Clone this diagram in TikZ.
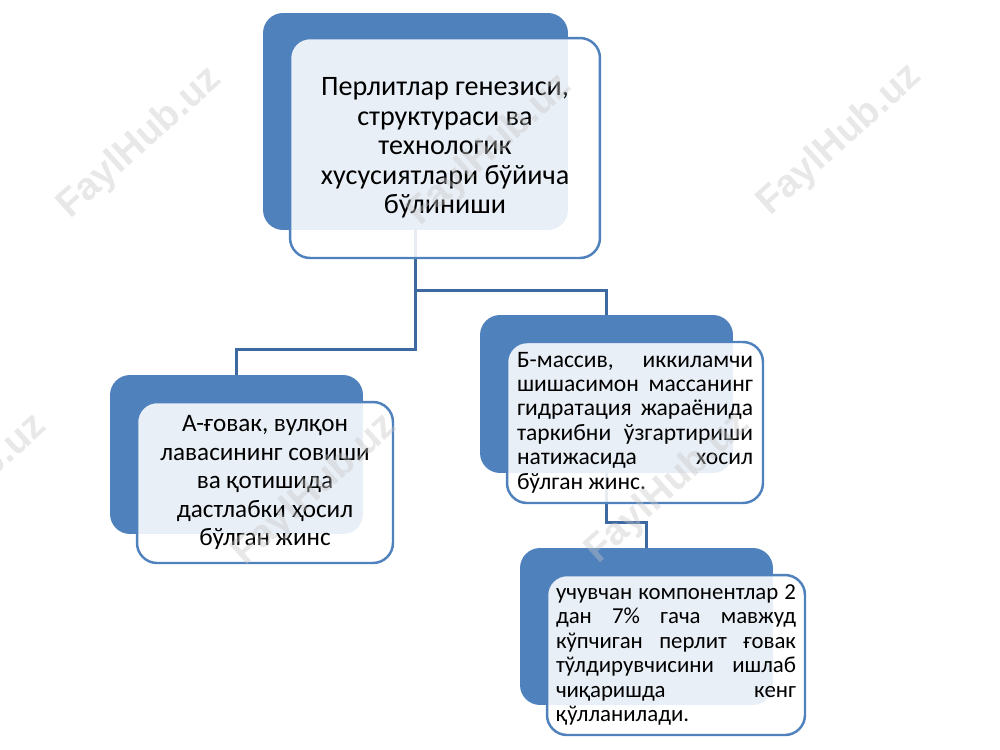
\documentclass[tikz,border=0pt]{standalone}
\usepackage{fontspec}
\setmainfont{Carlito}
\newfontfamily\markfont{Liberation Sans}
\usetikzlibrary{positioning}
\definecolor{boxblue}{HTML}{4F81BD}
\definecolor{linkblue}{HTML}{3E69A0}
\begin{document}
\begin{tikzpicture}[x=0.02cm,y=-0.02cm,
  backbox/.style={rectangle,rounded corners=0.4cm,fill=boxblue,inner sep=0pt},
  frontbox/.style={rectangle,rounded corners=0.4cm,draw=boxblue,line width=1.4pt,
    fill=white,fill opacity=0.88,text opacity=1,inner sep=0pt},
  link/.style={draw=linkblue,line width=1.5pt},
  watermark/.style={rotate=42,text=gray!45,opacity=0.4,
    font=\markfont\bfseries\fontsize{22}{22}\selectfont}]
\useasboundingbox (0,0) rectangle (1000,750);

\node[backbox,minimum width=6.1cm,minimum height=4.34cm] (topback) at (415.5,121.5) {};
\node[backbox,minimum width=5.06cm,minimum height=3.18cm] (aback) at (236.5,454.5) {};
\node[backbox,minimum width=5.06cm,minimum height=3.16cm] (bback) at (606.5,394) {};
\node[backbox,minimum width=5.06cm,minimum height=3.14cm] (cback) at (646.5,626.5) {};

\draw[link] (topback.south) -- ++(0,119) -| (aback.north);
\draw[link] (topback.south) -- ++(0,60) -| (bback.north);
\draw[link] (bback.south) -- ++(0,49) -| (cback.north);

\node[frontbox,minimum width=6.2cm,minimum height=4.4cm,align=center,
  font=\fontsize{16}{16.8}\selectfont] (top) at (445,148)
  {Перлитлар генезиси,\\ структураси ва\\ технологик\\ хусусиятлари бўйича\\ бўлиниши};
\node[frontbox,minimum width=5.12cm,minimum height=3.22cm,align=center,
  font=\fontsize{14.3}{16.2}\selectfont] (a) at (265,482.5)
  {А-ғовак, вулқон\\ лавасининг совиши\\ ва қотишида\\ дастлабки ҳосил\\ бўлган жинс};
\node[frontbox,minimum width=5.12cm,minimum height=3.22cm,text width=4.72cm,align=justify,
  font=\fontsize{13.4}{13.9}\selectfont] (b) at (635,422.5)
  {Б-массив, иккиламчи\linebreak шишасимон массанинг\linebreak гидратация жараёнида\linebreak
   таркибни ўзгартириши\linebreak натижасида хосил\linebreak бўлган жинс.};
\node[frontbox,minimum width=5.16cm,minimum height=3.2cm,text width=4.8cm,align=justify,
  font=\fontsize{13}{13.9}\selectfont] (c) at (676,655)
  {учувчан компонентлар 2\linebreak дан 7\% гача мавжуд\linebreak кўпчиган перлит ғовак\linebreak
   тўлдирувчисини ишлаб\linebreak чиқаришда кенг\linebreak қўлланилади.};

\foreach \wx/\wy [count=\i] in {140/143,490/150,840/140,-35/490,315/490,668/488}
  \node[watermark] (mark\i) at (\wx,\wy) {FaylHub.uz};
\end{tikzpicture}
\end{document}
